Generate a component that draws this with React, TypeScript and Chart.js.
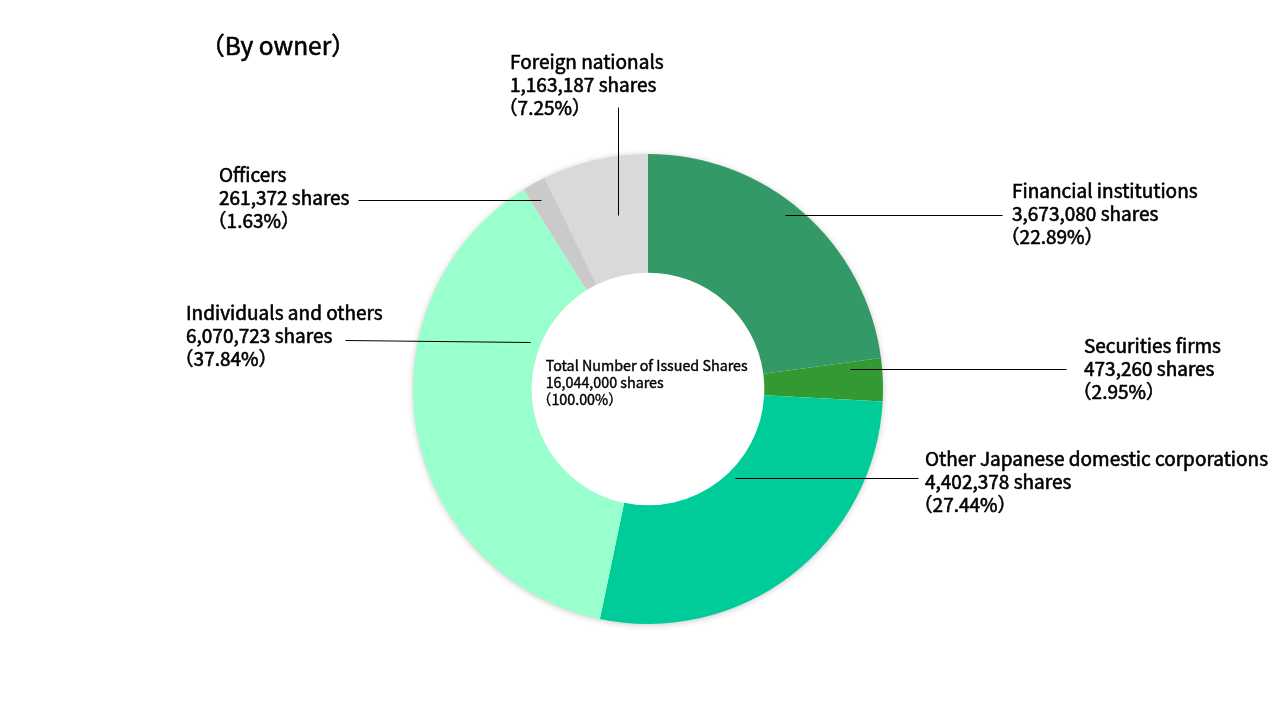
import React, { useEffect, useRef } from "react";
import { Chart, registerables } from "chart.js";

Chart.register(...registerables);

const categories = [
  "Financial institutions",
  "Securities firms",
  "Other Japanese domestic corporations",
  "Individuals and others",
  "Officers",
  "Foreign nationals",
];
const shares = [3673080, 473260, 4402378, 6070723, 261372, 1163187];
const shareLabels = [
  "3,673,080 shares",
  "473,260 shares",
  "4,402,378 shares",
  "6,070,723 shares",
  "261,372 shares",
  "1,163,187 shares",
];
const percentLabels = ["（22.89%）", "（2.95%）", "（27.44%）", "（37.84%）", "（1.63%）", "（7.25%）"];
const colors = ["#339966", "#339933", "#00CC99", "#99FFCC", "#CACACA", "#D9D9D9"];

const titleText = "（By owner）";
const centerLines = ["Total Number of Issued Shares", "16,044,000 shares", "（100.00%）"];

// label layout, relative to doughnut centre (px): text origin + leader line
const labelLayout = [
  { tx: 364, ty: -198, line: [[137, -174], [354, -174]] },
  { tx: 436, ty: -43, line: [[202, -20], [418, -20]] },
  { tx: 277, ty: 70, line: [[87, 89], [270, 89]] },
  { tx: -462, ty: -76, line: [[-118, -47], [-303, -49]] },
  { tx: -429, ty: -214, line: [[-107, -189], [-290, -189]] },
  { tx: -138, ty: -327, line: [[-30, -174], [-30, -282]] },
];

const FONT = '"Noto Sans CJK JP", "Noto Sans", sans-serif';

function drawText(ctx: CanvasRenderingContext2D, t: string, x: number, y: number, size: number) {
  // full-width opening paren has its ink on the right of its cell; pull it back
  const dx = t.startsWith("（") ? -0.6 * size : 0;
  ctx.fillText(t, x + dx, y);
  ctx.strokeText(t, x + dx, y);
}

const annotationPlugin = {
  id: "annotations",
  beforeDatasetsDraw(chart: any) {
    const arc = chart.getDatasetMeta(0).data[0];
    if (!arc) return;
    const ctx = chart.ctx;
    ctx.save();
    ctx.shadowColor = "rgba(0,0,0,0.28)";
    ctx.shadowBlur = 7;
    ctx.shadowOffsetY = 1;
    ctx.fillStyle = "#ffffff";
    ctx.beginPath();
    ctx.arc(arc.x, arc.y, arc.outerRadius - 1, 0, Math.PI * 2);
    ctx.fill();
    ctx.restore();
  },
  afterDraw(chart: any) {
    const meta = chart.getDatasetMeta(0);
    const arc = meta.data[0];
    if (!arc) return;
    const cx = arc.x;
    const cy = arc.y;
    const ctx = chart.ctx;
    ctx.save();
    ctx.fillStyle = "#000";
    ctx.strokeStyle = "#000";
    ctx.textAlign = "left";
    ctx.textBaseline = "middle";

    // title
    ctx.lineWidth = 0.6;
    ctx.font = `400 24.5px ${FONT}`;
    drawText(ctx, titleText, 215, 46, 24.5);

    // centre text
    ctx.lineWidth = 0.4;
    ctx.font = `400 14.3px ${FONT}`;
    const innerLeft = cx - arc.innerRadius + 14;
    centerLines.forEach((t, i) => drawText(ctx, t, innerLeft, cy - 23 + i * 17, 14.3));

    // labels
    ctx.lineWidth = 0.6;
    ctx.font = `400 19px ${FONT}`;
    categories.forEach((cat, i) => {
      const L = labelLayout[i];
      const lines = [cat, shareLabels[i], percentLabels[i]];
      lines.forEach((t, j) => drawText(ctx, t, cx + L.tx, cy + L.ty + j * 23, 19));
    });
    ctx.lineWidth = 1;
    categories.forEach((_, i) => {
      const L = labelLayout[i];
      ctx.beginPath();
      ctx.moveTo(cx + L.line[0][0] + 0.5, cy + L.line[0][1] + 0.5);
      ctx.lineTo(cx + L.line[1][0] + 0.5, cy + L.line[1][1] + 0.5);
      ctx.stroke();
    });
    ctx.restore();
  },
};

export default function App() {
  const ref = useRef<HTMLCanvasElement>(null);
  useEffect(() => {
    document.body.style.margin = "0";
    const chart = new Chart(ref.current as HTMLCanvasElement, {
      type: "doughnut",
      data: {
        labels: categories,
        datasets: [
          {
            data: shares,
            backgroundColor: colors,
            borderWidth: 0,
          },
        ],
      },
      options: {
        responsive: false,
        animation: false,
        cutout: "49.5%",
        layout: { padding: { top: 154, bottom: 96, left: 413, right: 397 } },
        plugins: {
          legend: { display: false },
          tooltip: { enabled: false },
        },
      },
      plugins: [annotationPlugin],
    });
    return () => chart.destroy();
  }, []);
  return (
    <div style={{ width: 1280, height: 720, background: "#fff" }}>
      <canvas ref={ref} width={1280} height={720} />
    </div>
  );
}
